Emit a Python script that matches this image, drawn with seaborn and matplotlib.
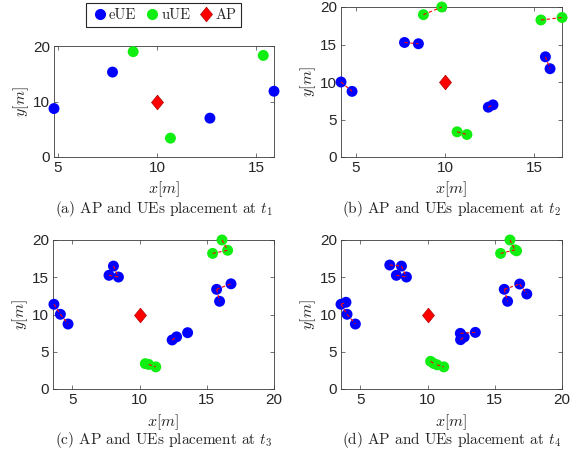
import matplotlib
matplotlib.use("Agg")
import matplotlib.pyplot as plt
import pandas as pd
import seaborn as sns
from matplotlib.lines import Line2D

# ---------------- data ----------------
ap_x = [10.0]
ap_y = [10.0]

a_x = [4.80, 7.75, 12.66, 15.89, 8.79, 15.35, 10.67]
a_y = [8.73, 15.30, 7.00, 11.85, 18.98, 18.30, 3.40]
a_kind = ["eUE", "eUE", "eUE", "eUE", "uUE", "uUE", "uUE"]
a_links = []

b_x = [4.16, 4.78, 7.72, 8.50, 15.62, 15.88, 12.42, 12.68,
       8.78, 9.81, 15.37, 16.55, 10.67, 11.22]
b_y = [10.00, 8.75, 15.27, 15.10, 13.36, 11.77, 6.64, 6.95,
       18.98, 20.00, 18.27, 18.60, 3.36, 3.00]
b_kind = ["eUE"] * 8 + ["uUE"] * 6
b_links = [(0, 1), (2, 3), (4, 5), (6, 7), (8, 9), (10, 11), (12, 13)]

c_x = [3.62, 4.10, 4.67, 8.05, 7.72, 8.42, 15.73, 16.80, 15.95, 12.42, 12.75, 13.57,
       16.13, 16.55, 15.43, 10.42, 10.67, 11.20]
c_y = [11.37, 10.03, 8.72, 16.50, 15.26, 15.03, 13.38, 14.12, 11.77, 6.58, 7.00, 7.56,
       20.00, 18.62, 18.20, 3.40, 3.30, 2.97]
c_kind = ["eUE"] * 12 + ["uUE"] * 6
c_links = [(0, 1), (1, 2), (3, 5), (4, 5), (6, 7), (6, 8), (9, 10),
           (12, 13), (14, 13), (16, 17)]

d_x = [3.55, 3.92, 4.00, 4.62, 7.18, 8.05, 7.67, 8.42, 15.70, 16.85, 17.38, 15.95,
       12.43, 12.45, 12.72, 13.55,
       16.13, 16.50, 16.62, 15.43, 10.22, 10.45, 10.70, 11.20]
d_y = [11.37, 11.64, 10.03, 8.72, 16.64, 16.50, 15.26, 15.03, 13.38, 14.09, 12.75, 11.77,
       7.47, 6.62, 6.98, 7.60,
       20.00, 18.68, 18.55, 18.20, 3.72, 3.42, 3.25, 2.97]
d_kind = ["eUE"] * 16 + ["uUE"] * 8
d_links = [(0, 1), (0, 2), (2, 3), (4, 5), (5, 7), (6, 7), (8, 9), (8, 11), (9, 10),
           (12, 15), (13, 14), (16, 17), (19, 17), (20, 21), (22, 23)]

captions = ["(a) AP and UEs placement at $t_1$",
            "(b) AP and UEs placement at $t_2$",
            "(c) AP and UEs placement at $t_3$",
            "(d) AP and UEs placement at $t_4$"]

# ---------------- style ----------------
sns.set_theme(style="white")
plt.rcParams["font.family"] = ["Liberation Sans", "DejaVu Sans"]
plt.rcParams["mathtext.fontset"] = "cm"

W, H = 578, 453
fig = plt.figure(figsize=(W / 100, H / 100), dpi=100)

def rect(l, r, t, b):
    return [l / W, 1 - b / H, (r - l) / W, (b - t) / H]

axes_rects = [rect(54, 274, 46, 157), rect(341, 562, 7, 157),
              rect(53, 274, 240, 389), rect(341, 562, 240, 389)]
panels = [(a_x, a_y, a_kind, a_links), (b_x, b_y, b_kind, b_links),
          (c_x, c_y, c_kind, c_links), (d_x, d_y, d_kind, d_links)]

palette = {"eUE": "#0000ff", "uUE": "#11ee11"}
frame_col = "#3a3a3a"
diamond = [(0, 1), (0.82, 0), (0, -1), (-0.82, 0), (0, 1)]
serif = ["cmr10", "DejaVu Serif"]

for k, (r, (px, py, pk, links)) in enumerate(zip(axes_rects, panels)):
    ax = fig.add_axes(r)
    df = pd.DataFrame({"x": px, "y": py, "kind": pk})
    sns.scatterplot(data=df, x="x", y="y", hue="kind", palette=palette, s=62,
                    linewidth=0, legend=False, ax=ax, zorder=3, clip_on=False)
    for i, j in links:
        ax.plot([px[i], px[j]], [py[i], py[j]], color="red", lw=0.8,
                dashes=(3, 2.2), zorder=4, clip_on=False)
    sns.scatterplot(x=ap_x, y=ap_y, marker=diamond, s=110, color="#ff0000",
                    edgecolor="#b00000", linewidth=0.5, ax=ax, zorder=5, legend=False)

    if k < 2:
        ax.set_xlim(min(px), max(px))
        ax.set_xticks([5, 10, 15])
    else:
        ax.set_xlim(3.55, 20)
        ax.set_xticks([5, 10, 15, 20])
    ax.set_ylim(0, 20)
    if k == 0:
        ax.set_yticks([0, 10, 20])
    else:
        ax.set_yticks([0, 5, 10, 15, 20])

    for s in ax.spines.values():
        s.set_visible(True)
        s.set_color(frame_col)
        s.set_linewidth(0.6)
        s.set_zorder(1)
    ax.tick_params(direction="in", length=3, width=0.5, color=frame_col,
                   top=True, right=True, bottom=True, left=True,
                   labelsize=11, labelcolor="#262626", pad=3)

    ax.set_xlabel("$x[m]$", fontsize=11.5, color="#262626")
    ax.set_ylabel("$y[m]$", fontsize=11.5, color="#262626")
    hpx = r[3] * H
    wpx = r[2] * W
    xl_center = 189 if k < 2 else 422
    bottom_px = 157 if k < 2 else 389
    ax.xaxis.set_label_coords(0.5, -(xl_center - bottom_px) / hpx)
    ax.xaxis.label.set_va("center")
    ax.yaxis.set_label_coords(-33 / wpx, 0.5)
    ax.yaxis.label.set_va("center")

    cx = r[0] + r[2] / 2
    cy_px = 209 if k < 2 else 440
    fig.text(cx, 1 - cy_px / H, captions[k], ha="center", va="center",
             fontsize=11, family=serif, color="#262626")

# legend
handles = [Line2D([], [], ls="none", marker="o", ms=8, color="#0000ff", mew=0),
           Line2D([], [], ls="none", marker="o", ms=8, color="#11ee11", mew=0),
           Line2D([], [], ls="none", marker=diamond, ms=10.5, mfc="#ff0000",
                  mec="#b00000", mew=0.5)]
leg = fig.legend(handles, ["eUE", "uUE", "AP"], loc="center",
                 bbox_to_anchor=(163.5 / W, 1 - 15 / H), ncol=3, frameon=True,
                 fancybox=False, edgecolor="#262626", framealpha=1,
                 handletextpad=0.05, columnspacing=0.45, handlelength=1.2,
                 borderpad=0.35, borderaxespad=0, prop={"family": serif, "size": 10.5})
leg.get_frame().set_linewidth(0.8)

fig.savefig("out.png", dpi=100)
